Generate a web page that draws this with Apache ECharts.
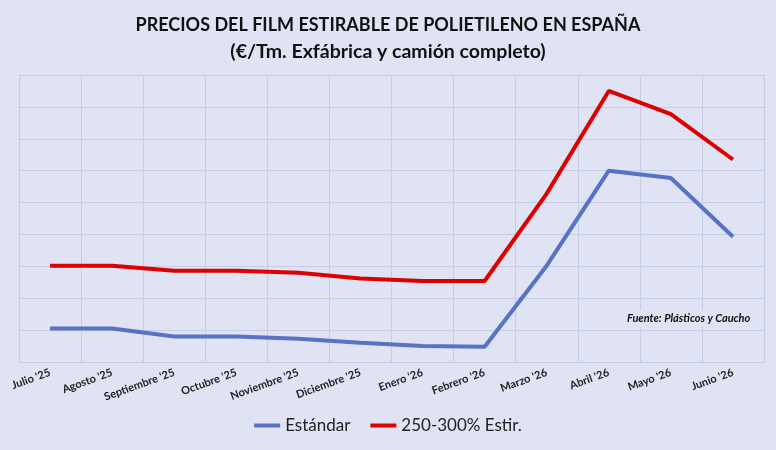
<!DOCTYPE html>
<html>
<head>
<meta charset="utf-8">
<script src="https://cdn.jsdelivr.net/npm/echarts@6/dist/echarts.min.js"></script>
<style>
  html, body { margin: 0; padding: 0; background: #dfe3f3; }
  #chart { width: 776px; height: 450px; }
</style>
</head>
<body>
<div id="chart"></div>
<script>
// meses
var meses = ["Julio '25", "Agosto '25", "Septiembre '25", "Octubre '25", "Noviembre '25", "Diciembre '25",
             "Enero '26", "Febrero '26", "Marzo '26", "Abril '26", "Mayo '26", "Junio '26"];
// valores (unidades de rejilla, eje sin etiquetas)
var estandar = [1.05, 1.05, 0.8, 0.8, 0.73, 0.6, 0.5, 0.48, 3.02, 6.0, 5.77, 3.93];
var estirado = [3.02, 3.02, 2.86, 2.86, 2.8, 2.62, 2.54, 2.54, 5.28, 8.5, 7.77, 6.35];

var chart = echarts.init(document.getElementById('chart'));
var fuente = 'Lato, "Open Sans", sans-serif';

var option = {
    backgroundColor: '#dfe3f3',
    textStyle: { fontFamily: fuente },
    title: {
        text: '{a|PRECIOS DEL FILM ESTIRABLE DE POLIETILENO EN ESPAÑA}\n{b|(€/Tm. Exfábrica y camión completo)}',
        left: 'center',
        top: 7,
        textStyle: {
            fontFamily: fuente,
            fontWeight: 'bold',
            color: '#111',
            align: 'center',
            rich: {
                a: { fontFamily: fuente, fontSize: 18, fontWeight: 'bold', color: '#111', lineHeight: 26 },
                b: { fontFamily: fuente, fontSize: 19.5, fontWeight: 'bold', color: '#111', lineHeight: 28 }
            }
        }
    },
    legend: {
        data: ['Estándar', '250-300% Estir.'],
        bottom: 11,
        left: 'center',
        icon: 'rect',
        itemWidth: 26,
        itemHeight: 4,
        itemGap: 20,
        textStyle: { fontFamily: fuente, fontSize: 17, color: '#222' }
    },
    grid: {
        left: 19,
        right: 12,
        top: 75,
        bottom: 88
    },
    xAxis: {
        type: 'category',
        data: meses,
        boundaryGap: true,
        axisLine: { show: false },
        axisTick: { show: false },
        splitLine: { show: true, interval: 0, lineStyle: { color: '#c6cce8', width: 1 } },
        axisLabel: {
            interval: 0,
            rotate: 20,
            margin: 10,
            fontSize: 11,
            fontWeight: 'bold',
            color: '#222',
            fontFamily: fuente
        }
    },
    yAxis: {
        type: 'value',
        min: 0,
        max: 9,
        interval: 1,
        axisLabel: { show: false },
        axisLine: { show: false },
        axisTick: { show: false },
        splitLine: { lineStyle: { color: '#c6cce8', width: 1 } }
    },
    graphic: [{
        type: 'text',
        left: 621,
        top: 310,
        z: 10,
        style: {
            text: 'Fuente: Plásticos y Caucho',
            font: 'italic bold 11px ' + fuente,
            fill: '#111',
            backgroundColor: '#dfe3f3',
            padding: [3, 6]
        }
    }],
    series: [
        {
            name: 'Estándar',
            type: 'line',
            data: estandar,
            symbol: 'none',
            lineStyle: { width: 4, color: '#5673c4' },
            itemStyle: { color: '#5673c4' }
        },
        {
            name: '250-300% Estir.',
            type: 'line',
            data: estirado,
            symbol: 'none',
            lineStyle: { width: 4, color: '#dd0000' },
            itemStyle: { color: '#dd0000' }
        }
    ]
};
chart.setOption(option);
window.onresize = chart.resize;
</script>
</body>
</html>
